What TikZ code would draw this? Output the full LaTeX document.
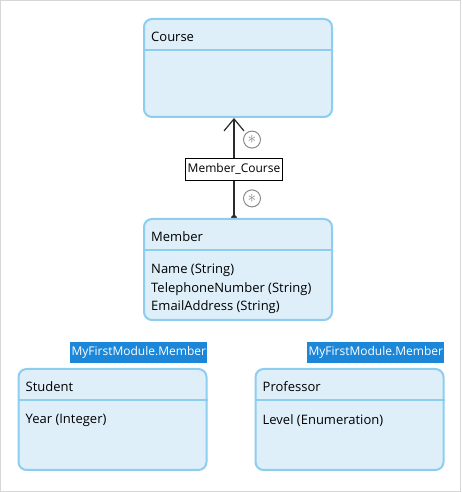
\documentclass[tikz,border=0pt]{standalone}
\usepackage{fontspec}
\setmainfont{Open Sans}
\usetikzlibrary{positioning,arrows.meta,backgrounds}
\definecolor{boxline}{HTML}{8CCDF0}
\definecolor{boxfill}{HTML}{DEEFFA}
\definecolor{tagblue}{HTML}{1C87D9}
\definecolor{framegray}{HTML}{D6D6D6}
\definecolor{multgray}{HTML}{8A8A8A}
\definecolor{linegray}{HTML}{2B2B2B}

\begin{document}
\begin{tikzpicture}[x=1pt,y=1pt,font=\fontsize{13}{18.5}\selectfont,
  classbox/.style={draw=boxline,fill=boxfill,line width=2pt,rounded corners=8pt,minimum width=188pt,inner sep=0pt},
  divider/.style={boxline,line width=2pt},
  classname/.style={anchor=west,inner sep=0pt},
  attrlist/.style={anchor=north west,align=left,inner sep=0pt},
  modtag/.style={fill=tagblue,text=white,inner sep=0pt,minimum height=21pt,minimum width=137pt,font=\fontsize{12}{14}\selectfont},
  multcircle/.style={circle,draw=multgray,line width=1pt,minimum size=17pt,inner sep=0pt,text=multgray,font=\fontsize{17}{17}\selectfont},
  rolelabel/.style={draw=black,fill=white,line width=0.8pt,inner sep=2.5pt,minimum height=22pt,font=\fontsize{12}{14}\selectfont},
  assoc/.style={draw=linegray,line width=1.2pt,shorten <=-3pt,{Circle[length=6pt]}-{Straight Barb[length=12pt,width=20pt]}}]
% frame
\useasboundingbox (0,0) rectangle (461,492);
\draw[framegray,line width=1pt] (0.5,0.5) rectangle (460.5,491.5);
% classes
\node[classbox,minimum height=98pt] (course) at (238,424) {};
\node[classbox,minimum height=101pt] (member) at (238,222.5) {};
\node[classbox,minimum height=101pt] (student) at (112.5,72.5) {};
\node[classbox,minimum height=101pt] (professor) at (349.5,72.5) {};
\foreach \c in {course,member,student,professor}
  \draw[divider] ([yshift=-32pt]\c.north west) -- ([yshift=-32pt]\c.north east);
\node[classname] (coursename) at ([xshift=8pt,yshift=-18.5pt]course.north west) {Course};
\node[classname] (membername) at ([xshift=8pt,yshift=-18.5pt]member.north west) {Member};
\node[classname] (studentname) at ([xshift=8pt,yshift=-18.5pt]student.north west) {Student};
\node[classname] (professorname) at ([xshift=8pt,yshift=-18.5pt]professor.north west) {Professor};
\node[attrlist] (memberattrs) at ([xshift=8pt,yshift=-46pt]member.north west) {Name (String)\\TelephoneNumber (String)\\EmailAddress (String)};
\node[attrlist] (studentattrs) at ([xshift=8pt,yshift=-46pt]student.north west) {Year (Integer)};
\node[attrlist] (professorattrs) at ([xshift=8pt,yshift=-46pt]professor.north west) {Level (Enumeration)};
% generalization tags
\node[modtag,above left=5pt and 0pt of student.north east] (studenttag) {MyFirstModule.Member};
\node[modtag,above left=5pt and 0pt of professor.north east] (professortag) {MyFirstModule.Member};
% association
\begin{scope}[on background layer]
\path ([xshift=-4pt]member.north) edge[assoc]
  node[rolelabel,pos=0.49] {Member\_Course}
  node[multcircle,pos=0.196,xshift=18pt] {$\ast$}
  node[multcircle,pos=0.784,xshift=18pt] {$\ast$}
  ([xshift=-4pt]course.south);
\end{scope}
\end{tikzpicture}
\end{document}
